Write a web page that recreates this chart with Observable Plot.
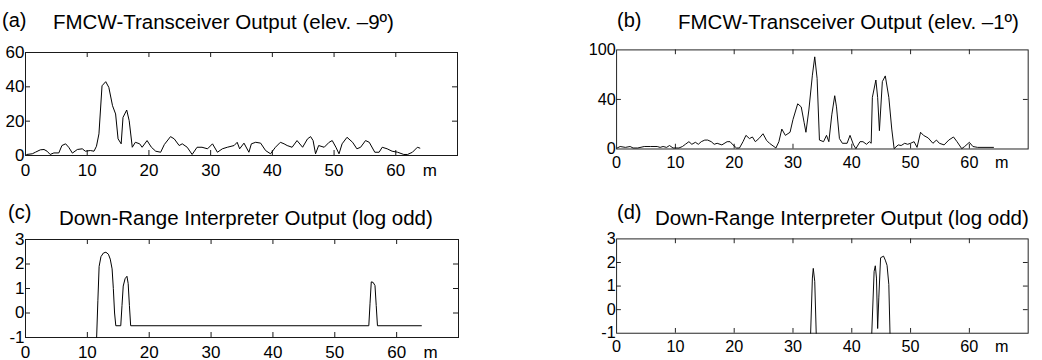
<!DOCTYPE html>
<html><head><meta charset="utf-8">
<script src="https://cdn.jsdelivr.net/npm/d3@7"></script>
<script src="https://cdn.jsdelivr.net/npm/@observablehq/plot@0.6"></script>
<style>
html,body{margin:0;padding:0;width:1042px;height:360px;overflow:hidden;background:#fff;}
body{position:relative;font-family:"Liberation Sans",Arial,sans-serif;color:#000;}
.panel{position:absolute;}
.txt{position:absolute;white-space:nowrap;line-height:1;}
</style></head><body>
<script>
// ---- tick values & labels ----
const xTickValues = [0, 10, 20, 30, 40, 50, 60, 65.5];
const xTickLabels = ["0", "10", "20", "30", "40", "50", "60", "m"];
const xInnerTicks = [10, 20, 30, 40, 50, 60];
const yTicksA = [0, 20, 40, 60];
const yLabelsA = ["0", "20", "40", "60"];
const yInnerA = [20, 40];
const yTicksB = [0, 40, 80];
const yLabelsB = ["0", "40", "100"];
const yInnerB = [40];
const yTicksLog = [-1, 0, 1, 2, 3];
const yLabelsLog = ["-1", "0", "1", "2", "3"];
const yInnerLog = [0, 1, 2];

// ---- titles ----
const panelLetters = ["(a)", "(b)", "(c)", "(d)"];
const panelTitles = [
  "FMCW-Transceiver Output (elev. \u20139\u00ba)",
  "FMCW-Transceiver Output (elev. \u20131\u00ba)",
  "Down-Range Interpreter Output (log odd)",
  "Down-Range Interpreter Output (log odd)"
];

// ---- series: [range m, value] ----
const seriesA = [[0.2,0.6],[1.1,1.0],[1.6,1.9],[2.4,3.3],[3.0,3.5],[3.5,2.5],[4.0,0.6],[4.6,1.5],[5.4,1.5],[5.9,5.8],
  [6.5,6.8],[7.0,4.8],[7.6,1.4],[8.4,3.5],[9.2,3.9],[9.7,2.5],[10.5,2.9],[11.1,2.5],[11.5,5.4],[11.9,12.6],
  [12.4,40.6],[13.0,43],[13.5,39.7],[14.1,29],[14.6,24.2],[15.0,9.7],[15.5,6.8],[15.8,22.2],[16.4,26.5],[16.8,20.3],
  [17.3,4.8],[17.8,7.7],[18.5,6.8],[18.9,4.8],[19.7,8.7],[20.4,4.8],[21.1,2.5],[21.9,1.9],[22.5,6.4],[23.5,11],
  [24.1,9.7],[24.9,5.8],[25.4,6.8],[26.2,4.8],[27.0,0.6],[27.8,4.8],[28.6,4.8],[29.5,3.9],[30.3,6.8],[31.1,1.9],
  [31.9,3.9],[32.7,4.8],[33.8,5.8],[34.3,7.7],[34.7,3.9],[35.4,7.2],[36.2,1.9],[36.6,6.8],[37.3,7.7],[38.1,7.2],
  [38.9,2.9],[39.7,1],[40.5,4.8],[41.3,7.7],[41.9,6.8],[42.4,5.8],[43.2,4.8],[44.0,8.7],[44.9,4.8],[45.7,9.7],
  [46.2,11],[46.6,8.7],[47.0,1],[47.5,5.8],[48.4,4.8],[49.2,7.7],[49.7,8.7],[50.3,4.8],[50.8,1],[51.3,6.8],
  [52.1,10.6],[53.0,7.7],[53.7,3.9],[54.3,4.8],[55.1,8.7],[55.7,7.7],[56.6,1.9],[57.3,1.9],[57.8,4.8],[58.6,3.9],
  [59.4,2.5],[60.3,1.9],[61.3,0.6],[61.9,0.6],[62.7,1.9],[63.5,4.8],[63.9,4.3]];

const seriesB = [[0.1,0.8],[0.6,2],[1.5,1.3],[2.3,2],[2.8,0.8],[3.6,0.8],[4.7,2],[5.8,2],[6.9,2],[7.4,1.3],
  [7.9,2],[8.5,1.3],[9.0,2.8],[9.6,0.8],[10.6,0.8],[11.2,2],[11.7,3.8],[12.3,5.9],[12.8,3.8],[13.4,5.4],
  [13.9,3.8],[14.4,5.9],[15.0,7.2],[15.5,7.2],[16.1,5.9],[16.6,3.8],[17.1,4.6],[17.9,3.3],[18.8,5.9],[19.3,5.9],
  [19.8,3.3],[20.4,0.8],[20.9,0.8],[21.5,5.9],[22.0,11],[22.6,8.4],[23.1,9.7],[23.6,5.9],[24.2,8.4],[24.9,12.3],
  [25.5,7],[26.0,4.6],[27.1,0.8],[27.6,5.9],[28.1,16.1],[28.7,11],[29.5,13.5],[30.0,23.8],[30.8,36.5],[31.4,34],
  [31.9,21.2],[32.2,13.5],[32.7,31.5],[33.3,59.6],[33.7,74.4],[34.1,57],[34.5,7.2],[35.2,5.9],[35.7,11],[36.1,5.9],
  [36.6,27.6],[37.1,43],[37.4,34],[37.9,8.4],[38.4,4.6],[39.2,4.6],[39.7,11],[40.3,3.3],[40.7,0.3],[41.4,5.9],
  [41.9,5.9],[42.5,3.8],[43.0,5.9],[43.3,4.6],[43.5,41.7],[44.1,55.7],[44.4,41.7],[44.7,14.8],[45.2,54.4],[45.7,59],
  [46.3,41.7],[46.8,16.1],[47.2,0.3],[47.9,3.3],[48.4,2.8],[49.0,4.6],[49.5,3.8],[50.0,4.6],[50.6,5.9],[51.1,1.3],
  [51.7,13.5],[52.2,11],[53.0,8.9],[53.8,4.6],[54.4,7.2],[54.9,4.6],[55.7,3.3],[56.5,7.2],[57.3,9.7],[57.9,5.9],
  [58.7,0.3],[59.2,2],[60.0,5.4],[60.6,2],[61.4,1.3],[64.1,1.3]];

const seriesC = [[11.5,-1],[11.7,0.5],[11.9,1.9],[12.2,2.3],[12.6,2.45],[13.0,2.48],[13.4,2.4],[13.7,2.2],[14.0,1.8],
  [14.2,1.0],[14.4,0.0],[14.6,-0.52],[15.4,-0.52],[15.6,0.3],[15.8,1.1],[16.1,1.4],[16.4,1.5],[16.6,1.2],[16.8,0.3],
  [17.0,-0.52],[55.5,-0.52],[55.7,0.4],[55.9,1.27],[56.2,1.25],[56.5,1.12],[56.7,0.3],[56.9,-0.52],[64.0,-0.52]];

const seriesD1 = [[33.0,-1],[33.3,1.34],[33.45,1.75],[33.7,1.2],[33.95,-1]];
const seriesD2 = [[43.4,-1],[43.8,1.62],[44.0,1.86],[44.2,1.34],[44.4,-0.8],[44.6,0.53],[44.9,2.2],[45.4,2.27],
  [45.7,2.1],[46.0,1.88],[46.3,1.07],[46.5,-1]];

const FONT = '"Liberation Sans", Arial, sans-serif';
const INK = "#1a1a1a";

function addText(str, x, baseline, size) {
  const d = document.createElement("div");
  d.className = "txt";
  d.textContent = str;
  d.style.fontSize = size + "px";
  d.style.left = x + "px";
  d.style.top = (baseline - 0.8465 * size) + "px";
  document.body.appendChild(d);
}

function panel({frameLeft, frameTop, frameW, frameH, segments, yDomain, yTicks, yLabels, yInner}) {
  const mL = 40, mT = 12, mR = 15, mB = 34;
  const chart = Plot.plot({
    width: frameW + mL + mR,
    height: frameH + mT + mB,
    marginLeft: mL, marginTop: mT, marginRight: mR, marginBottom: mB,
    style: {fontFamily: FONT, fontSize: "17px", color: "#000", background: "transparent", overflow: "visible"},
    x: {domain: [0, 70]},
    y: {domain: yDomain},
    marks: [
      Plot.frame({stroke: INK, strokeWidth: 1}),
      Plot.tickX(xInnerTicks, {x: d => d, stroke: INK, insetTop: frameH - 5}),
      Plot.tickX(xInnerTicks, {x: d => d, stroke: INK, insetBottom: frameH - 5}),
      Plot.tickY(yInner, {y: d => d, stroke: INK, insetRight: frameW - 5}),
      Plot.tickY(yInner, {y: d => d, stroke: INK, insetLeft: frameW - 5}),
      Plot.axisX({ticks: xTickValues, tickFormat: d => xTickLabels[xTickValues.indexOf(d)], tickSize: 0, tickPadding: 8, label: null, fill: "#000"}),
      Plot.axisY({ticks: yTicks, tickFormat: d => yLabels[yTicks.indexOf(d)], tickSize: 0, tickPadding: 1, label: null, fill: "#000"}),
      ...segments.map(s => Plot.line(s, {x: d => d[0], y: d => d[1], stroke: "#000", strokeWidth: 1}))
    ]
  });
  const wrap = document.createElement("div");
  wrap.className = "panel";
  wrap.style.left = (frameLeft - mL) + "px";
  wrap.style.top = (frameTop - mT) + "px";
  wrap.appendChild(chart);
  document.body.appendChild(wrap);
}

panel({frameLeft: 25, frameTop: 52, frameW: 432, frameH: 103, segments: [seriesA], yDomain: [0, 60], yTicks: yTicksA, yLabels: yLabelsA, yInner: yInnerA});
panel({frameLeft: 618, frameTop: 50, frameW: 432, frameH: 104, segments: [seriesB], yDomain: [0, 80], yTicks: yTicksB, yLabels: yLabelsB, yInner: yInnerB});
panel({frameLeft: 25, frameTop: 239, frameW: 433, frameH: 98, segments: [seriesC], yDomain: [-1, 3], yTicks: yTicksLog, yLabels: yLabelsLog, yInner: yInnerLog});
panel({frameLeft: 618, frameTop: 239, frameW: 432, frameH: 99, segments: [seriesD1, seriesD2], yDomain: [-1, 3], yTicks: yTicksLog, yLabels: yLabelsLog, yInner: yInnerLog});

const TITLE_SIZE = 20.5, LETTER_SIZE = 20;
addText(panelLetters[0], 2, 27, LETTER_SIZE);
addText(panelTitles[0], 53, 29, TITLE_SIZE);
addText(panelLetters[1], 617, 27, LETTER_SIZE);
addText(panelTitles[1], 678, 29, TITLE_SIZE);
addText(panelLetters[2], 8, 219, LETTER_SIZE);
addText(panelTitles[2], 59, 225, TITLE_SIZE);
addText(panelLetters[3], 617, 219, LETTER_SIZE);
addText(panelTitles[3], 655, 225, TITLE_SIZE);
</script>
</body></html>
